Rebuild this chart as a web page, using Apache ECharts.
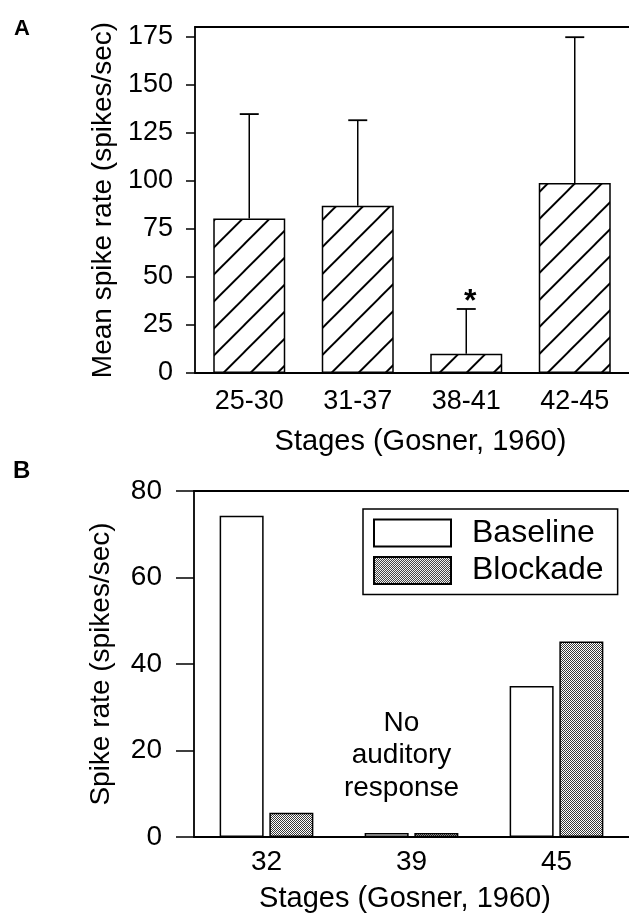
<!DOCTYPE html>
<html><head><meta charset="utf-8">
<script src="https://cdn.jsdelivr.net/npm/echarts@6/dist/echarts.min.js"></script>
<style>html,body{margin:0;padding:0;background:#fff}#c{width:629px;height:914px}</style>
</head><body><div id="c"></div>
<script>
// ---- data ----
const stagesA = ['25-30', '31-37', '38-41', '42-45'];
const meanA = [80.4, 87, 10, 98.8];
const upperA = [134.7, 131.5, 33.3, 174.7];
const markA = ['', '', '*', ''];
const ticksA = [0, 25, 50, 75, 100, 125, 150, 175];

const stagesB = ['32', '39', '45'];
const baselineB = [74.3, 0.9, 34.9];
const blockadeB = [5.6, 0.9, 45.2];
const ticksB = [0, 20, 40, 60, 80];
const noteStage = '39';
const noteValue = 19.3;
const noteText = 'No\nauditory\nresponse';

const FONT = "'Liberation Sans', Arial, Helvetica, sans-serif";

// ---- patterns ----
function hatchTile() {
  const P = 27, c = document.createElement('canvas');
  c.width = P; c.height = P;
  const g = c.getContext('2d');
  g.fillStyle = '#fff'; g.fillRect(0, 0, P, P);
  g.strokeStyle = '#000'; g.lineWidth = 2;
  const off = 2.3;
  for (const k of [0, 1, 2]) {
    const s = off + k * P;
    g.beginPath(); g.moveTo(-3, s + 3); g.lineTo(s + 3, -3); g.stroke();
  }
  return c;
}
function checkTile() {
  const c = document.createElement('canvas');
  c.width = 2; c.height = 2;
  const g = c.getContext('2d');
  g.fillStyle = '#fff'; g.fillRect(0, 0, 2, 2);
  g.fillStyle = '#3a3a3a'; g.fillRect(0, 0, 1, 1); g.fillRect(1, 1, 1, 1);
  return c;
}
const hatch = { image: hatchTile(), repeat: 'repeat' };
const checker = { image: checkTile(), repeat: 'repeat' };

const axisLineStyle = { color: '#000', width: 1.8 };

const chart = echarts.init(document.getElementById('c'), null, { renderer: 'canvas' });
chart.setOption({
  animation: false,
  backgroundColor: '#fff',
  textStyle: { fontFamily: FONT, color: '#000' },
  grid: [
    { left: 195, top: 27, width: 437, height: 346 },
    { left: 194, top: 491, width: 449, height: 349 }
  ],
  xAxis: [
    { gridIndex: 0, type: 'category', data: stagesA, position: 'bottom',
      axisLine: { lineStyle: axisLineStyle }, axisTick: { show: false },
      axisLabel: { fontSize: 27, color: '#000', margin: 15, fontFamily: FONT },
      name: 'Stages (Gosner, 1960)', nameLocation: 'middle', nameGap: 54,
      nameTextStyle: { fontSize: 29, color: '#000', fontFamily: FONT, padding: [0, 0, 0, 17] } },
    { gridIndex: 1, type: 'category', data: stagesB, position: 'bottom',
      axisLine: { lineStyle: axisLineStyle }, axisTick: { show: false },
      axisLabel: { fontSize: 28, color: '#000', margin: 11, fontFamily: FONT },
      name: 'Stages (Gosner, 1960)', nameLocation: 'middle', nameGap: 47,
      nameTextStyle: { fontSize: 29, color: '#000', fontFamily: FONT, padding: [0, 13, 0, 0] } },
    { gridIndex: 0, type: 'category', data: stagesA, position: 'top',
      axisLine: { onZero: false, lineStyle: axisLineStyle }, axisTick: { show: false }, axisLabel: { show: false } },
    { gridIndex: 1, type: 'category', data: stagesB, position: 'top',
      axisLine: { onZero: false, lineStyle: axisLineStyle }, axisTick: { show: false }, axisLabel: { show: false } }
  ],
  yAxis: [
    { gridIndex: 0, type: 'value', min: 0, max: 180,
      axisLine: { show: true, lineStyle: axisLineStyle },
      axisTick: { show: true, length: 9, lineStyle: { color: '#000', width: 1.5 }, customValues: ticksA },
      axisLabel: { fontSize: 27, color: '#000', margin: 22, fontFamily: FONT, customValues: ticksA },
      splitLine: { show: false },
      name: 'Mean spike rate (spikes/sec)', nameLocation: 'middle', nameGap: 70,
      nameTextStyle: { fontSize: 28, color: '#000', fontFamily: FONT } },
    { gridIndex: 1, type: 'value', min: 0, max: 80,
      axisLine: { show: true, lineStyle: axisLineStyle },
      axisTick: { show: true, length: 18, lineStyle: { color: '#000', width: 1.5 }, customValues: ticksB },
      axisLabel: { fontSize: 28, color: '#000', margin: 32, fontFamily: FONT, customValues: ticksB },
      splitLine: { show: false },
      name: 'Spike rate (spikes/sec)', nameLocation: 'middle', nameGap: 79,
      nameTextStyle: { fontSize: 28, color: '#000', fontFamily: FONT } }
  ],
  legend: {
    orient: 'vertical', left: 363, top: 509, data: ['Baseline', 'Blockade'],
    itemWidth: 77, itemHeight: 27, itemGap: 5.4, icon: 'rect',
    padding: [8, 14, 8, 10], borderColor: '#000', borderWidth: 1.5,
    selectedMode: false,
    textStyle: { fontSize: 32, lineHeight: 32, color: '#000', fontFamily: FONT, padding: [0, 0, 0, 16] }
  },
  graphic: [
    { type: 'text', left: 14, top: 18, style: { text: 'A', fontSize: 22, fontWeight: 'bold', fontFamily: FONT, fill: '#000' } },
    { type: 'text', left: 13, top: 459, style: { text: 'B', fontSize: 24, fontWeight: 'bold', fontFamily: FONT, fill: '#000' } }
  ],
  series: [
    { type: 'bar', name: 'A', xAxisIndex: 0, yAxisIndex: 0, data: meanA, barWidth: 72, silent: true,
      itemStyle: { color: hatch, borderColor: '#000', borderWidth: 1.5 } },
    { type: 'custom', xAxisIndex: 0, yAxisIndex: 0, z: 5, silent: true,
      data: stagesA.map((s, i) => [i, meanA[i], upperA[i]]),
      encode: { x: 0, y: [1, 2] },
      renderItem: function (params, api) {
        const i = api.value(0);
        const p0 = api.coord([i, api.value(1)]);
        const p1 = api.coord([i, api.value(2)]);
        const half = 9.5;
        const children = [
          { type: 'line', shape: { x1: p0[0], y1: p0[1], x2: p1[0], y2: p1[1] }, style: { stroke: '#000', lineWidth: 1.5 } },
          { type: 'line', shape: { x1: p1[0] - half, y1: p1[1], x2: p1[0] + half, y2: p1[1] }, style: { stroke: '#000', lineWidth: 1.8 } }
        ];
        const m = markA[params.dataIndex];
        if (m) {
          children.push({ type: 'text', x: p1[0] + 4, y: p1[1] + 9,
            style: { text: m, fontSize: 32, fontWeight: 'bold', fontFamily: FONT, fill: '#000', align: 'center', verticalAlign: 'bottom' } });
        }
        return { type: 'group', children: children };
      } },
    { type: 'bar', name: 'Baseline', xAxisIndex: 1, yAxisIndex: 1, data: baselineB, barWidth: 44, barGap: '13%', silent: true,
      itemStyle: { color: '#fff', borderColor: '#000', borderWidth: 1.5 } },
    { type: 'bar', name: 'Blockade', xAxisIndex: 1, yAxisIndex: 1, data: blockadeB, barWidth: 44, barGap: '13%', silent: true,
      itemStyle: { color: checker, borderColor: '#000', borderWidth: 1.5 } },
    { type: 'scatter', xAxisIndex: 1, yAxisIndex: 1, data: [[noteStage, noteValue]], symbolSize: 1, silent: true,
      itemStyle: { color: 'transparent', opacity: 1 },
      label: { show: true, position: 'inside', formatter: noteText, fontSize: 28, lineHeight: 32.5, color: '#000', opacity: 1, fontFamily: FONT, offset: [-10, 2], align: 'center', verticalAlign: 'middle' } }
  ]
});
</script>
</body></html>
